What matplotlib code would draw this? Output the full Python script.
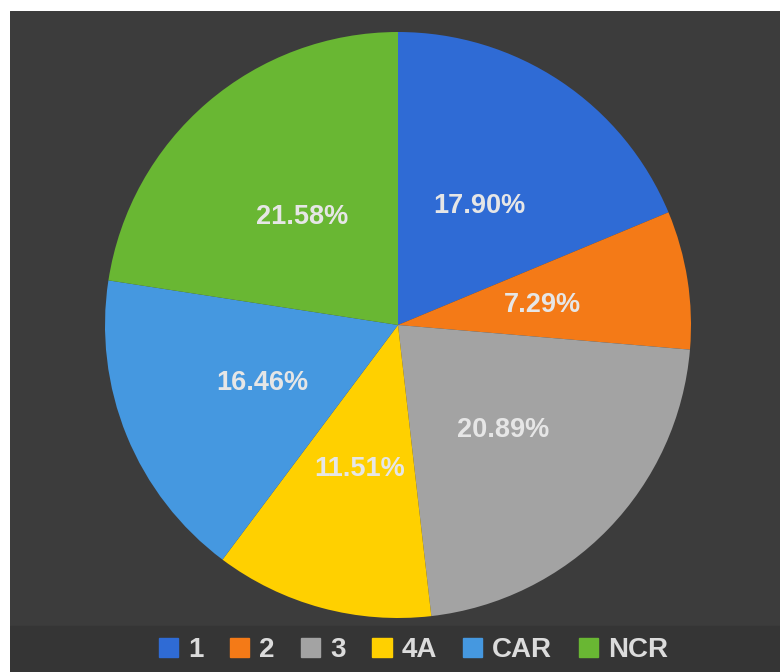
import numpy as np
import matplotlib.pyplot as plt
from matplotlib.patches import Rectangle

regions = ["1", "2", "3", "4A", "CAR", "NCR"]
shares = [17.90, 7.29, 20.89, 11.51, 16.46, 21.58]
colors = ["#2f6bd5", "#f47a17", "#a3a3a3", "#ffd000", "#4598e0", "#69b733"]

fig = plt.figure(figsize=(7.8, 6.72), dpi=100)
fig.patch.set_facecolor("white")

# dark panel
bg = fig.add_axes([10 / 780, 0, 770 / 780, 661 / 672])
bg.set_xlim(0, 1)
bg.set_ylim(0, 1)
bg.axis("off")
bg.add_patch(Rectangle((0, 0), 1, 1, color="#3c3c3c"))
bg.add_patch(Rectangle((0, 0), 1, 46 / 661, color="#353535"))

ax = fig.add_axes([(398 - 293) / 780, (672 - 325 - 293) / 672, 586 / 780, 586 / 672])
wedges, texts = ax.pie(shares, colors=colors, startangle=90, counterclock=False,
                       radius=1.0, wedgeprops=dict(linewidth=0))
for w, lab in zip(wedges, shares):
    ang = np.deg2rad((w.theta1 + w.theta2) / 2)
    ax.text(0.5 * np.cos(ang), 0.5 * np.sin(ang) - 0.01, f"{lab:.2f}%", ha="center", va="center",
            fontsize=19.5, fontweight="bold", color="#e6e6e6", family="Liberation Sans")
ax.set_xlim(-1, 1)
ax.set_ylim(-1, 1)
ax.set_aspect("equal")

handles = [Rectangle((0, 0), 1, 1, color=c) for c in colors]
leg = fig.legend(handles, regions, loc="center", bbox_to_anchor=(0.53, 22 / 672), ncol=6,
                 frameon=False, handlelength=0.7, handleheight=0.7, handletextpad=0.35,
                 columnspacing=0.95, prop=dict(family="Liberation Sans", weight="bold", size=20))
for t in leg.get_texts():
    t.set_color("#dcdcdc")

fig.savefig("out.png", dpi=100)
